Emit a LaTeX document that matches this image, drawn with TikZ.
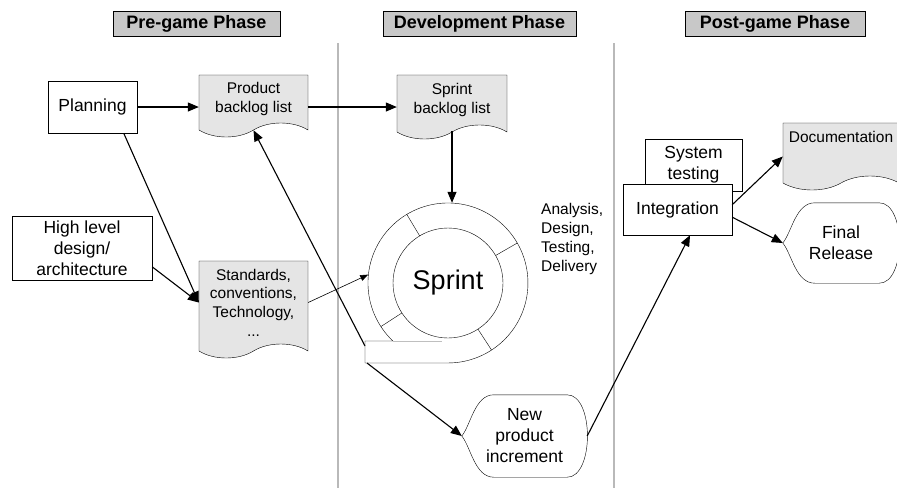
\documentclass[tikz,border=0pt]{standalone}
\usepackage{fontspec}
\setmainfont{Liberation Sans}
\usetikzlibrary{shapes.symbols,arrows.meta}
\colorlet{DocGray}{gray!20}
\colorlet{PhaseGray}{gray!43}
\tikzstyle{phaseBlock}=[draw,fill=PhaseGray,minimum height=25pt,inner sep=0pt,font=\bfseries\fontsize{18pt}{20pt}\selectfont]
\tikzstyle{stepBlock}=[draw,fill=white,align=center,inner sep=2pt,font=\fontsize{17.5pt}{21pt}\selectfont]
\tikzstyle{docBlock}=[tape,draw,fill=DocGray,tape bend top=none,tape bend bottom=in and out,tape bend height=14pt,align=center,inner sep=2pt,font=\fontsize{15.5pt}{18.6pt}\selectfont]
\tikzstyle{displayBlock}=[align=center,inner sep=0pt,font=\fontsize{17.5pt}{21pt}\selectfont]
\tikzstyle{invisNode}=[inner sep=0pt,align=left,font=\fontsize{15.5pt}{19pt}\selectfont]
\tikzstyle{stateTransition}=[-{Triangle[length=11pt,width=9pt]},line width=1.1pt]
\tikzstyle{thinTransition}=[-{Triangle[length=8pt,width=6pt]},line width=0.6pt]
\tikzstyle{phaseDivider}=[gray!55,line width=1.2pt]
\newcommand{\displayOutline}[1]{%
  \draw ([xshift=32pt]#1.north west) -- ([xshift=-20pt]#1.north east)
    .. controls ([xshift=7pt]#1.north east) and ([xshift=7pt]#1.south east) .. ([xshift=-20pt]#1.south east)
    -- ([xshift=32pt]#1.south west)
    .. controls ([xshift=13pt]#1.south west) and ([shift={(9pt,-11pt)}]#1.west) .. (#1.west)
    .. controls ([shift={(9pt,11pt)}]#1.west) and ([xshift=13pt]#1.north west) .. cycle;}

\begin{document}
\begin{tikzpicture}[x=1pt,y=-1pt]
    \useasboundingbox (0,0) rectangle (897,488);

    % Phases
    \node[phaseBlock,minimum width=167pt] (pre) at (196.5,24) {Pre-game Phase};
    \node[phaseBlock,minimum width=193pt] (dev) at (479.5,24) {Development Phase};
    \node[phaseBlock,minimum width=180pt] (post) at (775,24) {Post-game Phase};
    \draw[phaseDivider] (338,43) -- (338,488);
    \draw[phaseDivider] (614,43) -- (614,488);

    % Pre-game
    \node[stepBlock,minimum width=89pt,minimum height=52pt] (plan) at (92.5,107) {Planning};
    \node[stepBlock,minimum width=140pt,minimum height=64pt] (hld) at (82,248) {High level\\design/\\architecture};
    \node[docBlock,minimum width=109pt,minimum height=62pt] (prod) at (253.5,99) {Product\\backlog list};
    \node[docBlock,minimum width=109pt,minimum height=97pt] (std) at (253.5,302.5) {Standards,\\conventions,\\Technology,\\...};

    % Development
    \node[docBlock,minimum width=110pt,minimum height=64pt] (sprintlog) at (452,100) {Sprint\\backlog list};
    \node[circle,minimum size=160pt] (ring) at (448,283) {};
    \draw (365,341) -- (392.9,341) arc[start angle=133.5,end angle=450,radius=80] -- (365,363) -- cycle;
    \draw[gray!50] (392.9,341) -- (442,341);
    \node[circle,draw,minimum size=110pt,font=\fontsize{27pt}{30pt}\selectfont] (core) at (448,283) {Sprint};
    \foreach \a in {57,147,239,330}
        \draw (ring.center) ++(\a:55) -- +(\a:25);
    \node[invisNode,anchor=west] (acts) at (541,238.5) {Analysis,\\Design,\\Testing,\\Delivery};
    \coordinate (tailTop) at (365,346);
    \coordinate (tailFoot) at (367,363);
    \node[displayBlock,minimum width=125pt,minimum height=82pt] (inc) at (524.5,436) {New\\product\\increment};
    \displayOutline{inc}

    % Post-game
    \node[stepBlock,minimum width=97pt,minimum height=52pt] (systest) at (693.5,165) {System\\testing};
    \node[stepBlock,minimum width=109pt,minimum height=51pt] (integ) at (677.5,209.5) {Integration};
    \node[docBlock,minimum width=116pt,minimum height=67pt,text depth=25pt] (docu) at (841,149.5) {Documentation};
    \node[displayBlock,minimum width=116pt,minimum height=80pt] (final) at (841,243) {Final\\Release};
    \displayOutline{final}

    % Pre-game -> Development
    \draw[stateTransition] (plan.east) -- (plan.east -| prod.west);
    \draw[stateTransition] (plan.east -| prod.east) -- (plan.east -| sprintlog.west);
    \draw[stateTransition] (plan.-40) -- (std.west);
    \draw[stateTransition] (hld.-15) -- (std.west);
    \draw[thinTransition] (std.east) -- (ring.174);
    \draw[stateTransition] ([yshift=-6pt]sprintlog.south) -- (sprintlog.south |- ring.north);

    % Sprint -> increment
    \draw[stateTransition] (tailTop) -- ([yshift=-7pt]prod.south);
    \draw[stateTransition] (tailFoot) -- (inc.west);

    % Development -> Post-game
    \draw[stateTransition] (inc.east) -- (integ.-64);
    \draw[stateTransition] (integ.5) -- ([yshift=-7pt]docu.west);
    \draw[stateTransition] (integ.-8) -- (final.west);
\end{tikzpicture}
\end{document}
